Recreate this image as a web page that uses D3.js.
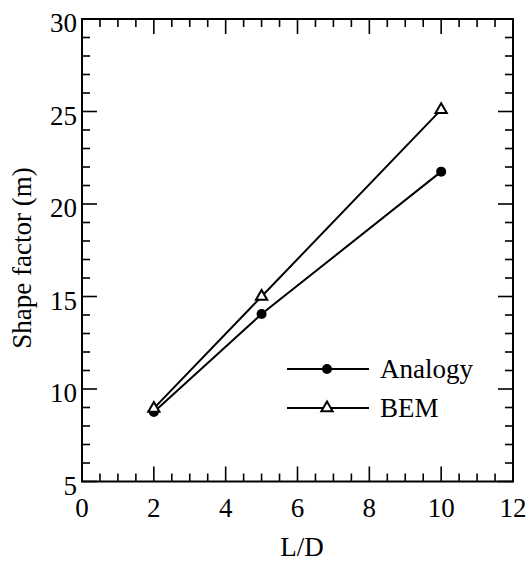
<!DOCTYPE html>
<html><head><meta charset="utf-8">
<script src="https://cdn.jsdelivr.net/npm/d3@7"></script>
<style>body{margin:0;background:#fff}</style>
</head><body>
<svg id="c" width="532" height="561"></svg>
<script>
const xValues = [2, 5, 10];
const analogy = [8.76, 14.05, 21.75];
const bem = [8.95, 15.0, 25.1];
const xTicks = [0, 2, 4, 6, 8, 10, 12];
const yTicks = [5, 10, 15, 20, 25, 30];
const seriesNames = ["Analogy", "BEM"];

const svg = d3.select("#c");
const FONT = "'Liberation Serif'";
const L = 82, R = 513, T = 19, B = 481.5;
const x = d3.scaleLinear().domain([0, 12]).range([L, R]);
const y = d3.scaleLinear().domain([5, 30]).range([B, T]);

svg.append("rect").attr("x", L).attr("y", T).attr("width", R - L).attr("height", B - T)
  .attr("fill", "none").attr("stroke", "#000").attr("stroke-width", 2);

const xMinor = d3.range(0, 12.01, 0.5);
const yMinor = d3.range(5, 30.01, 1);
const g = svg.append("g").attr("stroke", "#000").attr("stroke-width", 1.6);
xMinor.forEach(v => {
  const len = (Math.abs(v % 2) < 1e-6) ? 15 : 8;
  g.append("line").attr("x1", x(v)).attr("x2", x(v)).attr("y1", B).attr("y2", B - len);
  g.append("line").attr("x1", x(v)).attr("x2", x(v)).attr("y1", T).attr("y2", T + len);
});
yMinor.forEach(v => {
  const len = (Math.abs(v % 5) < 1e-6) ? 15 : 8;
  g.append("line").attr("y1", y(v)).attr("y2", y(v)).attr("x1", L).attr("x2", L + len);
  g.append("line").attr("y1", y(v)).attr("y2", y(v)).attr("x1", R).attr("x2", R - len);
});

svg.selectAll(".xl").data(xTicks).enter().append("text")
  .style("font-family", FONT)
  .attr("x", d => x(d)).attr("y", 517).attr("text-anchor", "middle")
  .attr("font-size", 27).text(d => d);
svg.selectAll(".yl").data(yTicks).enter().append("text")
  .style("font-family", FONT)
  .attr("x", 77).attr("y", d => y(d) + 13).attr("text-anchor", "end")
  .attr("font-size", 27).text(d => d);

svg.append("text").style("font-family", FONT).attr("x", 302).attr("y", 556).attr("text-anchor", "middle")
  .attr("font-size", 27).text("L/D");
svg.append("text").style("font-family", FONT).attr("transform", "translate(31,258) rotate(-90)").attr("text-anchor", "middle")
  .attr("font-size", 27).text("Shape factor (m)");

const line = d3.line().x((d, i) => x(xValues[i])).y(d => y(d));
svg.append("path").attr("d", line(analogy)).attr("fill", "none").attr("stroke", "#000").attr("stroke-width", 2);
svg.append("path").attr("d", line(bem)).attr("fill", "none").attr("stroke", "#000").attr("stroke-width", 2);

const tri = d3.symbol().type(d3.symbolTriangle).size(55);
svg.selectAll(".dot").data(analogy).enter().append("circle")
  .attr("cx", (d, i) => x(xValues[i])).attr("cy", d => y(d)).attr("r", 5).attr("fill", "#000");
svg.selectAll(".tri").data(bem).enter().append("path")
  .attr("d", tri).attr("transform", (d, i) => `translate(${x(xValues[i])},${y(d)})`)
  .attr("fill", "#fff").attr("stroke", "#000").attr("stroke-width", 2);

const lg = svg.append("g");
const ly = [369, 408];
seriesNames.forEach((n, i) => {
  lg.append("line").attr("x1", 287).attr("x2", 369).attr("y1", ly[i]).attr("y2", ly[i])
    .attr("stroke", "#000").attr("stroke-width", 2);
  if (i === 0) lg.append("circle").attr("cx", 327).attr("cy", ly[i]).attr("r", 5).attr("fill", "#000");
  else lg.append("path").attr("d", tri).attr("transform", `translate(327,${ly[i]})`)
    .attr("fill", "#fff").attr("stroke", "#000").attr("stroke-width", 2);
  lg.append("text").style("font-family", FONT).attr("x", 380).attr("y", ly[i] + 9)
    .attr("font-size", 27).text(n);
});
</script>
</body></html>
